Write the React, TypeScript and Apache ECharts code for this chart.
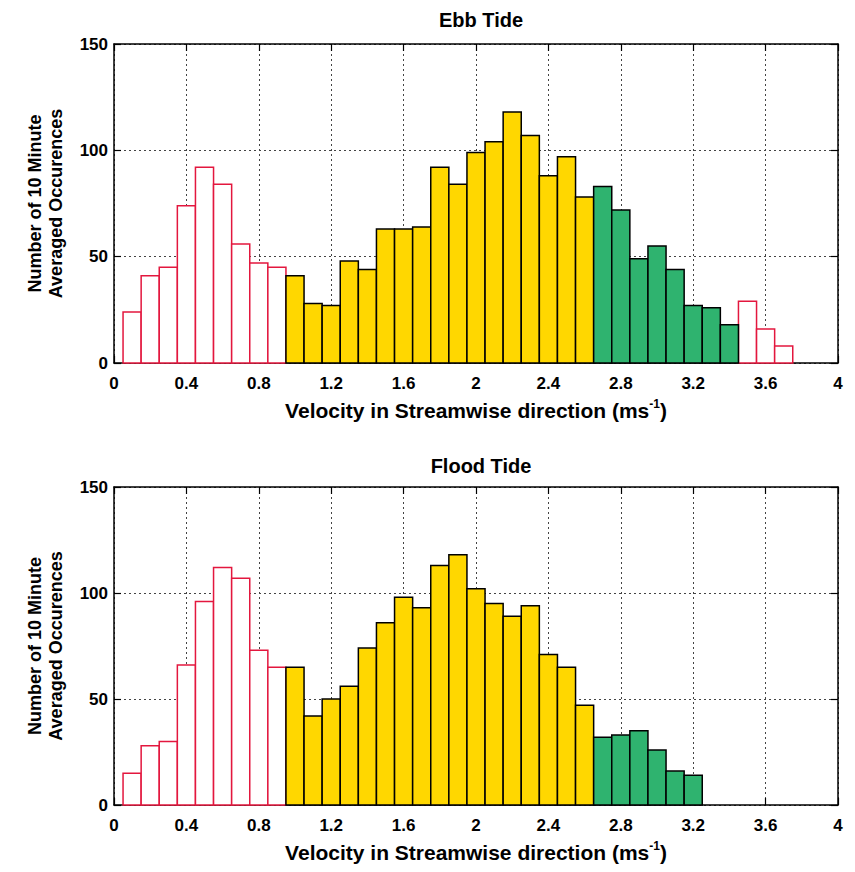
import React, { useEffect, useRef } from "react";
import * as echarts from "echarts";

// Histogram bin centres (m/s), bin width 0.1
const binCenters = [
  0.1, 0.2, 0.3, 0.4, 0.5, 0.6, 0.7, 0.8, 0.9, 1.0, 1.1, 1.2, 1.3, 1.4, 1.5, 1.6, 1.7, 1.8, 1.9,
  2.0, 2.1, 2.2, 2.3, 2.4, 2.5, 2.6, 2.7, 2.8, 2.9, 3.0, 3.1, 3.2, 3.3, 3.4, 3.5, 3.6, 3.7,
];
const binWidth = 0.1;

const ebbCounts = [
  24, 41, 45, 74, 92, 84, 56, 47, 45, 41, 28, 27, 48, 44, 63, 63, 64, 92, 84, 99, 104, 118, 107,
  88, 97, 78, 83, 72, 49, 55, 44, 27, 26, 18, 29, 16, 8,
];
const floodCounts = [
  15, 28, 30, 66, 96, 112, 107, 73, 65, 65, 42, 50, 56, 74, 86, 98, 93, 113, 118, 102, 95, 89, 94,
  71, 65, 47, 32, 33, 35, 26, 16, 14,
];

// velocity ranges (bin centres) coloured yellow / green
const ebbMidRange = [1.0, 2.6];
const ebbFastRange = [2.7, 3.4];
const floodMidRange = [1.0, 2.6];
const floodFastRange = [2.7, 3.2];

const titles = ["Ebb Tide", "Flood Tide"];
const xTickMin = 0;
const xTickMax = 4;
const xTickStep = 0.4;
const yTickMin = 0;
const yTickMax = 150;
const yTickStep = 50;

const FONT = "'Liberation Sans', Arial, Helvetica, sans-serif";
const YELLOW = "#FFD700";
const GREEN = "#2FB36F";
const RED = "#E3173E";

function inRange(v: number, r: number[]) {
  return v >= r[0] - 1e-9 && v <= r[1] + 1e-9;
}

function buildSeries(
  counts: number[],
  mid: number[],
  fast: number[],
  axisIdx: number
): any[] {
  const groups: Record<string, number[][]> = { slack: [], mid: [], fast: [] };
  counts.forEach((c, i) => {
    const x = binCenters[i];
    const g = inRange(x, mid) ? "mid" : inRange(x, fast) ? "fast" : "slack";
    groups[g].push([x, c]);
  });
  const styles: Record<string, any> = {
    slack: { fill: "#ffffff", stroke: RED, lineWidth: 1.5 },
    mid: { fill: YELLOW, stroke: "#000000", lineWidth: 1.5 },
    fast: { fill: GREEN, stroke: "#000000", lineWidth: 1.5 },
  };
  return ["slack", "mid", "fast"].map((g) => ({
    type: "custom",
    name: g,
    xAxisIndex: axisIdx,
    yAxisIndex: axisIdx,
    data: groups[g],
    renderItem: (params: any, api: any) => {
      const x = api.value(0);
      const y = api.value(1);
      const p0 = api.coord([x - binWidth / 2, y]);
      const p1 = api.coord([x + binWidth / 2, 0]);
      return {
        type: "rect",
        shape: { x: p0[0], y: p0[1], width: p1[0] - p0[0], height: p1[1] - p0[1] },
        style: styles[g],
      };
    },
  }));
}

const gridTops = [44, 487];
const gridHeights = [319, 318];

export default function App() {
  const ref = useRef<HTMLDivElement>(null);
  useEffect(() => {
    if (!ref.current) return;
    const chart = echarts.init(ref.current, undefined, { renderer: "svg" });
    const grids = gridTops.map((t, i) => ({
      left: 114,
      top: t,
      width: 724,
      height: gridHeights[i],
      containLabel: false,
    }));
    const splitLine = {
      show: true,
      lineStyle: { color: "#444", type: [2, 3], width: 1 },
    };
    const xAxes: any[] = [];
    const yAxes: any[] = [];
    [0, 1].forEach((gi) => {
      xAxes.push({
        type: "value",
        gridIndex: gi,
        position: "bottom",
        min: xTickMin,
        max: xTickMax,
        interval: xTickStep,
        axisLine: { show: true, onZero: false, lineStyle: { color: "#000", width: 1.5 } },
        axisTick: { show: true, inside: true, length: 7, lineStyle: { color: "#000", width: 1.2 } },
        axisLabel: {
          show: true,
          margin: 12,
          color: "#000",
          fontFamily: FONT,
          fontWeight: "bold",
          fontSize: 17,
        },
        splitLine,
        name: "{n|Velocity in Streamwise direction (ms}{s|-1}{n|)}",
        nameLocation: "middle",
        nameGap: 35,
        nameTextStyle: {
          color: "#000",
          fontFamily: FONT,
          fontWeight: "bold",
          fontSize: 21,
          rich: {
            n: { fontFamily: FONT, fontWeight: "bold", fontSize: 21, color: "#000", lineHeight: 25 },
            s: {
              fontFamily: FONT,
              fontWeight: "bold",
              fontSize: 12,
              color: "#000",
              verticalAlign: "top",
              lineHeight: 25,
            },
          },
        },
      });
      yAxes.push({
        type: "value",
        gridIndex: gi,
        position: "left",
        min: yTickMin,
        max: yTickMax,
        interval: yTickStep,
        axisLine: { show: true, onZero: false, lineStyle: { color: "#000", width: 1.5 } },
        axisTick: { show: true, inside: true, length: 7, lineStyle: { color: "#000", width: 1.2 } },
        axisLabel: {
          show: true,
          margin: 6,
          color: "#000",
          fontFamily: FONT,
          fontWeight: "bold",
          fontSize: 17,
        },
        splitLine,
        name: "Number of 10 Minute\nAveraged Occurences",
        nameLocation: "middle",
        nameGap: 48,
        nameTextStyle: {
          color: "#000",
          fontFamily: FONT,
          fontWeight: "bold",
          fontSize: 18,
          lineHeight: 21,
        },
      });
    });
    [0, 1].forEach((gi) => {
      xAxes.push({
        type: "value",
        gridIndex: gi,
        position: "top",
        min: xTickMin,
        max: xTickMax,
        interval: xTickStep,
        axisLine: { show: true, onZero: false, lineStyle: { color: "#000", width: 1.5 } },
        axisTick: { show: true, inside: true, length: 7, lineStyle: { color: "#000", width: 1.2 } },
        axisLabel: { show: false },
        splitLine: { show: false },
      });
      yAxes.push({
        type: "value",
        gridIndex: gi,
        position: "right",
        min: yTickMin,
        max: yTickMax,
        interval: yTickStep,
        axisLine: { show: true, onZero: false, lineStyle: { color: "#000", width: 1.5 } },
        axisTick: { show: true, inside: true, length: 7, lineStyle: { color: "#000", width: 1.2 } },
        axisLabel: { show: false },
        splitLine: { show: false },
      });
    });

    chart.setOption({
      animation: false,
      backgroundColor: "#ffffff",
      title: titles.map((t, i) => ({
        text: t,
        left: 476,
        top: i === 0 ? 5 : 451,
        textAlign: "center",
        textStyle: { fontFamily: FONT, fontWeight: "bold", fontSize: 20, color: "#000" },
      })),
      grid: grids,
      xAxis: xAxes,
      yAxis: yAxes,
      series: [
        ...buildSeries(ebbCounts, ebbMidRange, ebbFastRange, 0),
        ...buildSeries(floodCounts, floodMidRange, floodFastRange, 1),
      ],
    });
    return () => chart.dispose();
  }, []);
  return (
    <div
      ref={ref}
      style={{ position: "fixed", left: 0, top: 0, width: 855, height: 872, background: "#fff" }}
    />
  );
}
